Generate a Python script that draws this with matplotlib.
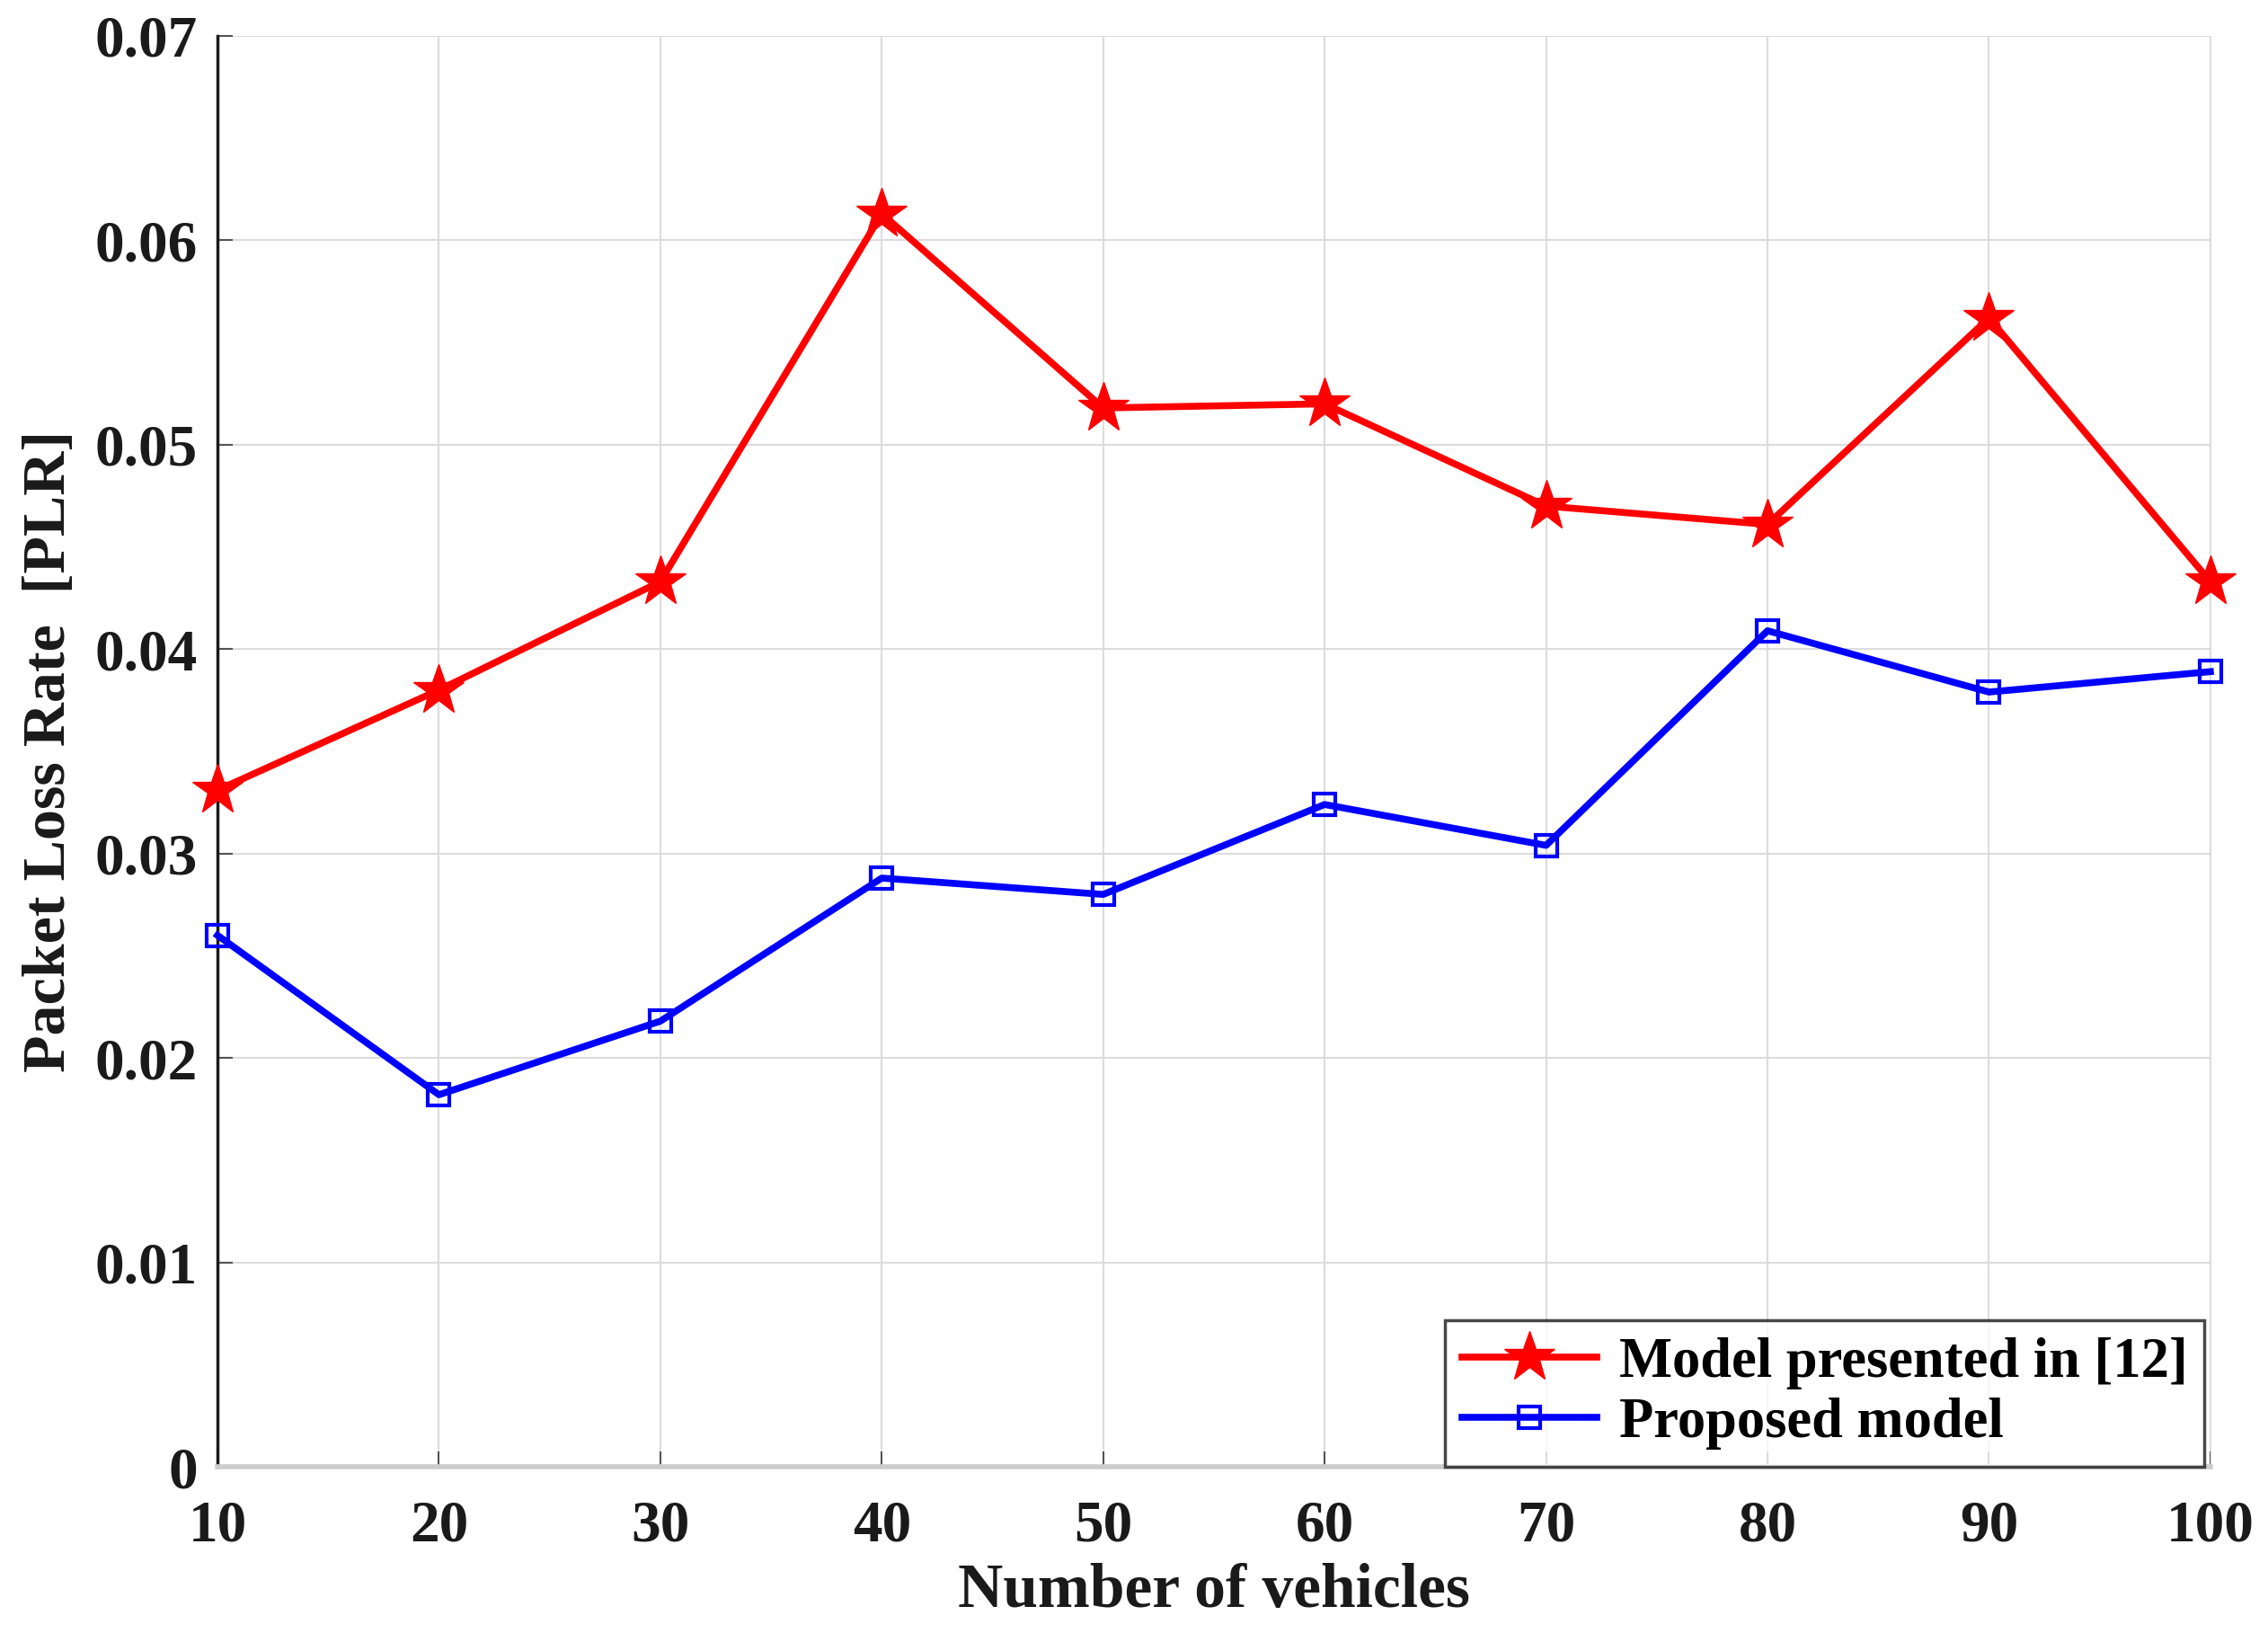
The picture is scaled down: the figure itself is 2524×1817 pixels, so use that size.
import numpy as np
import matplotlib.pyplot as plt

vehicles = [10, 20, 30, 40, 50, 60, 70, 80, 90, 100]
plr_ref12 = [0.0331, 0.0380, 0.0433, 0.0613, 0.0518, 0.0520, 0.0470, 0.0461, 0.0562, 0.0433]
plr_proposed = [0.0260, 0.0182, 0.0218, 0.0288, 0.0280, 0.0324, 0.0304, 0.0409, 0.0379, 0.0389]
y_ticks = [0, 0.01, 0.02, 0.03, 0.04, 0.05, 0.06, 0.07]
y_tick_labels = ['0', '0.01', '0.02', '0.03', '0.04', '0.05', '0.06', '0.07']

plt.rcParams['font.family'] = ['Liberation Serif', 'DejaVu Serif']
plt.rcParams['font.weight'] = 'bold'

fig = plt.figure(figsize=(25.24, 18.17), dpi=100)
ax = fig.add_axes([0.0959, 0.1018, 0.8787, 0.8762])

ax.plot(vehicles, plr_ref12, color='red', lw=5.5, marker='*', markersize=42,
        markerfacecolor='red', markeredgecolor='red', label='Model presented in [12]',
        zorder=3, clip_on=False)
ax.plot(vehicles, plr_proposed, color='blue', lw=5.5, marker='s', markersize=17,
        markerfacecolor='none', markeredgecolor='blue', markeredgewidth=3,
        label='Proposed model', zorder=3, clip_on=False)

ax.set_xlim(10, 100)
ax.set_ylim(0, 0.07)
ax.set_xticks(vehicles)
ax.set_yticks(y_ticks)
ax.set_yticklabels(y_tick_labels)
ax.grid(True, color='#dcdcdc', lw=1.5)
ax.tick_params(direction='in', length=12, width=1.5, colors='#555555', labelsize=47,
               labelcolor='#1a1a1a')
ax.tick_params(axis='x', pad=26)
ax.tick_params(axis='y', pad=16)
for lab in ax.get_xticklabels() + ax.get_yticklabels():
    lab.set_fontweight('bold')

ax.spines['top'].set_visible(False)
ax.spines['right'].set_color('#dcdcdc')
ax.spines['left'].set_color('#1a1a1a')
ax.spines['left'].set_linewidth(2.5)
ax.spines['bottom'].set_color('#cccccc')
ax.spines['bottom'].set_linewidth(4)

ax.set_xlabel('Number of vehicles', fontsize=50, fontweight='bold', color='#1a1a1a', labelpad=8)
ax.set_ylabel('Packet Loss Rate  [PLR]', fontsize=49, fontweight='bold', color='#1a1a1a', labelpad=14)

leg = ax.legend(loc='lower right', fontsize=45, frameon=True, fancybox=False,
                borderaxespad=0.0, handlelength=2.4, handletextpad=0.4,
                borderpad=0.3, labelspacing=0.15, markerscale=1.0,
                bbox_to_anchor=(0.997, 0.0))
leg.get_frame().set_edgecolor('#1a1a1a')
leg.get_frame().set_linewidth(2.5)
for t in leg.get_texts():
    t.set_fontweight('bold')

fig.savefig('out.png', dpi=100)
